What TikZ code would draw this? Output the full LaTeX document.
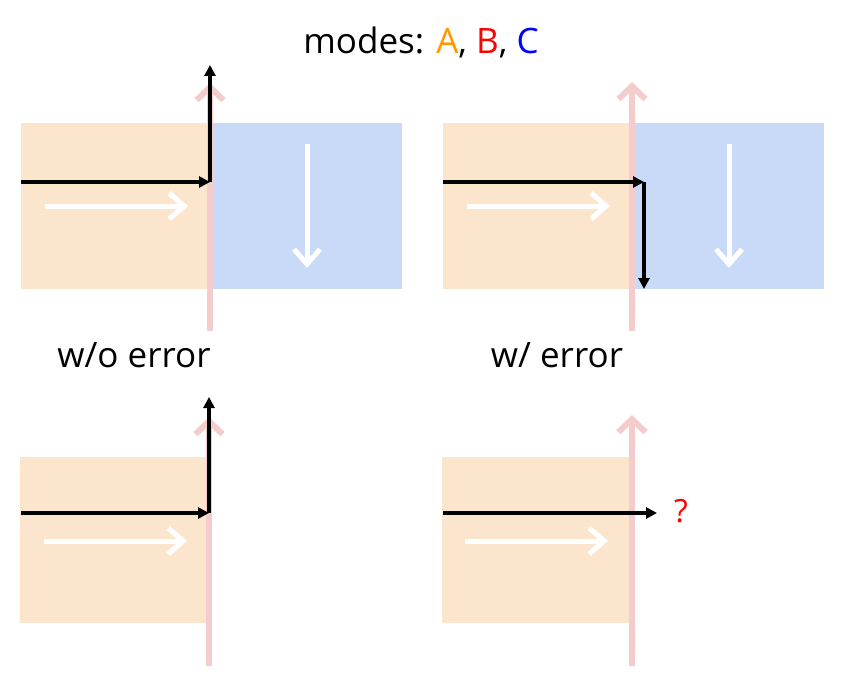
\documentclass[tikz,border=0pt]{standalone}
\usepackage{fontspec}
\setmainfont{Open Sans}
\usetikzlibrary{arrows.meta}
\definecolor{fieldA}{HTML}{FCE5CD}
\definecolor{fieldC}{HTML}{C9DAF8}
\definecolor{wallpink}{HTML}{F4CCCC}
\definecolor{modeA}{HTML}{FF9900}

\begin{document}
\begin{tikzpicture}[x=1pt,y=-1pt,
  wall/.style={wallpink, line width=6pt, -{Straight Barb[length=13pt,width=27pt]}},
  ray/.style={black, line width=3.2pt, -{Triangle[length=11pt,width=11pt]}},
  flow/.style={white, line width=5pt, -{Straight Barb[length=15pt,width=26pt]}},
  lbl/.style={font=\fontsize{35}{40}\selectfont}]
\useasboundingbox (0,0) rectangle (842,674);
% fields
\fill[fieldA] (21,123) rectangle (210,289);
\fill[fieldC] (210,123) rectangle (402,289);
\fill[fieldA] (443,123) rectangle (631,289);
\fill[fieldC] (631,123) rectangle (824,289);
\fill[fieldA] (20,457) rectangle (207,623);
\fill[fieldA] (442,457) rectangle (629,623);
% mode flows
\foreach \x/\y in {45/206, 467/206, 44/541, 465/541}
  {\draw[flow] (\x,\y) -- ++(143,0);}
\foreach \x in {307, 729}
  {\draw[flow] (\x,144) -- (\x,268);}
% interfaces
\foreach \x/\b/\t in {210/331/83, 632/331/82, 209/666/417, 632/666/415}
  {\draw[wall] (\x,\b) -- (\x,\t);}
% rays
\coordinate (inA) at (21,182);
\coordinate (hitA) at (210,182);
\coordinate (outA) at (210,65);
\coordinate (inB) at (443,182);
\coordinate (hitB) at (644,182);
\coordinate (outB) at (644,289);
\coordinate (inC) at (21,513);
\coordinate (hitC) at (209,513);
\coordinate (outC) at (209,397);
\coordinate (inD) at (443,513);
\coordinate (outD) at (657,513);
\draw[ray] (inA) -- (hitA);
\draw[ray] (hitA) -- (outA);
\draw[ray] (inB) -- (hitB);
\draw[ray] (hitB) -- (outB);
\draw[ray] (inC) -- (hitC);
\draw[ray] (hitC) -- (outC);
\draw[ray] (inD) -- (outD);
% labels
\node[lbl] (title) at (421,42) {modes: \textcolor{modeA}{A}, \textcolor{red}{B}, \textcolor{blue}{C}};
\node[lbl] (noerr) at (134,355) {w/o error};
\node[lbl] (witherr) at (557,355) {w/ error};
\node[text=red, font=\fontsize{32}{36}\selectfont] (unknown) at (681,511) {?};
\end{tikzpicture}
\end{document}
